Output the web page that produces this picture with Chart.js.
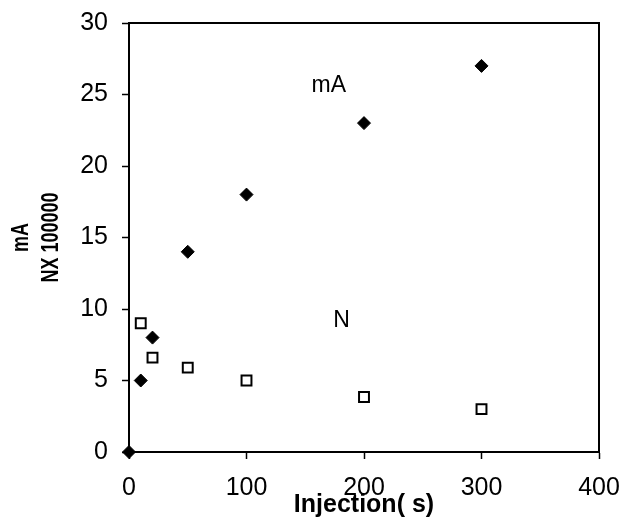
<!DOCTYPE html>
<html lang="en">
<head>
  <meta charset="UTF-8">
  <title>mA and N vs injection time</title>
  <style>
    html, body {
      margin: 0;
      padding: 0;
      background: #fff;
    }
    #wrap {
      width: 623px;
      height: 526px;
    }
  </style>
</head>
<body>
  <div id="wrap"><canvas id="chart" width="623" height="526"></canvas></div>

  <script src="https://cdn.jsdelivr.net/npm/chart.js"></script>
  <script>
    // injection time (s) and the two series
    const maTimes = [0, 10, 20, 50, 100, 200, 300];
    const maValues = [0, 5, 8, 14, 18, 23, 27];
    const nTimes = [10, 20, 50, 100, 200, 300];
    const nValues = [9, 6.6, 5.9, 5, 3.85, 3];

    const xTicks = [0, 100, 200, 300, 400];
    const yTicks = [0, 5, 10, 15, 20, 25, 30];

    // series labels written inside the plot
    const noteTexts = ['mA', 'N'];
    const noteX = [170, 181];
    const noteY = [25.6, 9.2];

    // y axis title, two lines
    const yTitle = ['mA', 'NX 100000'];

    const toPoints = (xs, ys) => xs.map((x, i) => ({ x: x, y: ys[i] }));

    const frame = {
      id: 'frame',
      afterDatasetsDraw(chart) {
        const { ctx, chartArea: a, scales } = chart;
        ctx.save();
        // top and right sides of the box
        ctx.strokeStyle = '#000';
        ctx.lineWidth = 2;
        ctx.beginPath();
        ctx.moveTo(a.left, a.top);
        ctx.lineTo(a.right, a.top);
        ctx.lineTo(a.right, a.bottom);
        ctx.stroke();
        // series notes
        ctx.fillStyle = '#000';
        ctx.font = '23px "Liberation Sans", Arial, sans-serif';
        ctx.textAlign = 'center';
        ctx.textBaseline = 'middle';
        noteTexts.forEach((t, i) => {
          ctx.fillText(t, scales.x.getPixelForValue(noteX[i]), scales.y.getPixelForValue(noteY[i]));
        });
        // rotated y title, a bit condensed like the original
        ctx.font = 'bold 23px "Liberation Sans", Arial, sans-serif';
        const midY = (a.top + a.bottom) / 2;
        yTitle.forEach((t, i) => {
          ctx.save();
          ctx.translate(22 + i * 30, midY);
          ctx.rotate(-Math.PI / 2);
          ctx.scale(0.78, 1);
          ctx.fillText(t, 0, 0);
          ctx.restore();
        });
        ctx.restore();
      }
    };

    const tickFont = { family: '"Liberation Sans", Arial, sans-serif', size: 25 };

    new Chart(document.getElementById('chart').getContext('2d'), {
      type: 'scatter',
      data: {
        datasets: [{
          label: 'mA',
          data: toPoints(maTimes, maValues),
          pointStyle: 'rectRot',
          pointRadius: 6.5,
          backgroundColor: '#000',
          borderColor: '#000',
          borderWidth: 1,
          clip: false
        }, {
          label: 'N',
          data: toPoints(nTimes, nValues),
          pointStyle: 'rect',
          pointRadius: 7,
          backgroundColor: '#fff',
          borderColor: '#000',
          borderWidth: 2,
          clip: false
        }]
      },
      options: {
        responsive: false,
        animation: false,
        layout: { padding: { left: 0, top: 23, right: 24, bottom: 0 } },
        plugins: {
          legend: { display: false },
          tooltip: { enabled: false }
        },
        scales: {
          x: {
            type: 'linear',
            min: 0,
            max: 400,
            afterFit: s => { s.height = 74; s.paddingLeft = 0; s.paddingRight = 0; },
            afterBuildTicks: s => { s.ticks = xTicks.map(v => ({ value: v })); },
            grid: { drawOnChartArea: false, drawTicks: true, tickLength: 7, tickColor: '#000', tickWidth: 1.5 },
            border: { color: '#000', width: 2 },
            ticks: { color: '#000', font: tickFont, padding: 14, maxRotation: 0 },
            title: {
              display: true,
              text: 'Injection( s)',
              color: '#000',
              font: { family: '"Liberation Sans", Arial, sans-serif', size: 25, weight: 'bold', lineHeight: 1.2 },
              padding: { top: 0, bottom: 6 }
            }
          },
          y: {
            type: 'linear',
            min: 0,
            max: 30,
            afterFit: s => { s.width = 129; s.paddingTop = 0; s.paddingBottom = 0; },
            afterBuildTicks: s => { s.ticks = yTicks.map(v => ({ value: v })); },
            grid: { drawOnChartArea: false, drawTicks: true, tickLength: 7, tickColor: '#000', tickWidth: 1.5 },
            border: { color: '#000', width: 2 },
            ticks: { color: '#000', font: tickFont, padding: 14 },
            title: { display: false }
          }
        }
      },
      plugins: [frame]
    });
  </script>
</body>
</html>
